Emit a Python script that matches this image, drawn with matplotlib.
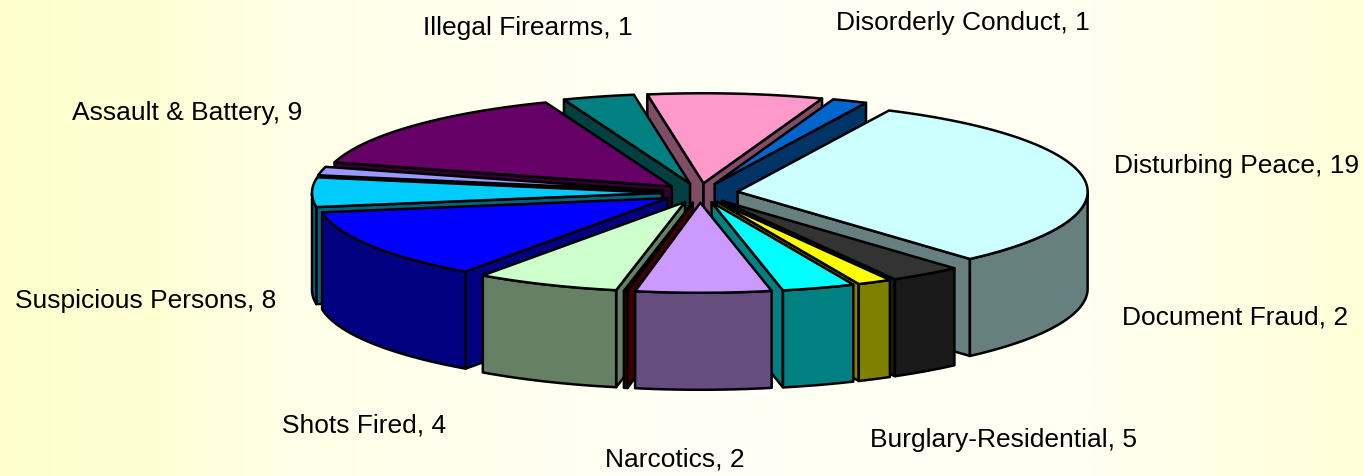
import numpy as np
import matplotlib
matplotlib.use('Agg')
import matplotlib.pyplot as plt
from matplotlib.colors import LinearSegmentedColormap
from matplotlib.patches import Polygon

plt.rcParams['font.family'] = ['Liberation Sans', 'DejaVu Sans']

# slices clockwise, starting with Disorderly Conduct
values = [0.97, 18.8, 2, 0.95, 2.02, 3.75, 0.1, 3.99, 7.61, 3.17, 0.92, 8.9, 1.98, 4.84]
top_colors = ['#0066CC', '#CCFFFF', '#333333', '#FFFF00', '#00FFFF', '#CC99FF', '#800000',
              '#CCFFCC', '#0000FF', '#00CCFF', '#9999FF', '#660066', '#008080', '#FF99CC']
side_colors = ['#003366', '#668080', '#1A1A1A', '#808000', '#008080', '#664D80', '#400000',
               '#668066', '#000080', '#006680', '#4D4D80', '#330033', '#004040', '#804D66']

labels = ['Illegal Firearms, 1', 'Disorderly Conduct, 1', 'Assault & Battery, 9',
          'Disturbing Peace, 19', 'Suspicious Persons, 8', 'Document Fraud, 2',
          'Shots Fired, 4', 'Burglary-Residential, 5', 'Narcotics, 2']
label_x = [423, 836, 72, 1114, 15, 1122, 282, 870, 605]
label_y = [28, 23, 113, 166, 301, 318, 425, 440, 459]

# pie geometry in pixels
cx, cy = 700, 193
rx, ry = 350, 90
depth = 97
explode = 38
start_angle = 19.8
lw = 1.8

fig = plt.figure(figsize=(13.64, 4.76), dpi=100)
ax = fig.add_axes([0, 0, 1, 1])
ax.set_xlim(0, 1364)
ax.set_ylim(476, 0)
ax.axis('off')

# yellow at the edges, almost white in the middle
bg = LinearSegmentedColormap.from_list('bg', [(0, '#FFFFCC'), (0.11, '#FFFFD5'), (0.22, '#FFFFE8'),
                                              (0.5, '#FFFFF6'), (0.8, '#FFFFF2'), (1, '#FFFFD8')])
ax.imshow(np.linspace(0, 1, 512).reshape(1, -1), cmap=bg, extent=[0, 1364, 476, 0], aspect='auto', zorder=0)


def point(a, ox, oy, r=1.0):
    rad = np.radians(a)
    return ox + r * rx * np.sin(rad), oy - r * ry * np.cos(rad)


def arc(a, b, ox, oy):
    t = np.linspace(a, b, max(int(abs(b - a)) * 2, 2))
    return np.column_stack(point(t, ox, oy))


def face(pts, color, z):
    ax.add_patch(Polygon(pts, closed=True, facecolor=color, edgecolor='black',
                         linewidth=lw, joinstyle='round', zorder=z))


edges = start_angle + np.cumsum([0] + values) * 360.0 / sum(values)
mids = (edges[:-1] + edges[1:]) / 2

# back slices first
order = np.argsort(-np.cos(np.radians(mids)))
for n, i in enumerate(order):
    a, b = edges[i], edges[i + 1]
    ox = cx + explode * np.sin(np.radians(mids[i]))
    oy = cy - explode * ry / rx * np.cos(np.radians(mids[i]))
    z = 2 + n
    apex = np.array([ox, oy])
    down = np.array([0, depth])

    # side walls only where they face the viewer
    if np.sin(np.radians(a)) < 0:
        p = np.array(point(a, ox, oy))
        face([apex, p, p + down, apex + down], side_colors[i], z)
    if np.sin(np.radians(b)) > 0:
        p = np.array(point(b, ox, oy))
        face([apex, p, p + down, apex + down], side_colors[i], z)

    # outer rim, front half only
    for k in [0, 360]:
        lo, hi = max(a, 90 + k), min(b, 270 + k)
        if lo < hi:
            rim = arc(lo, hi, ox, oy)
            face(np.vstack([rim, rim[::-1] + down]), side_colors[i], z)

    face(np.vstack([apex, arc(a, b, ox, oy)]), top_colors[i], z)

for text, x, y in zip(labels, label_x, label_y):
    ax.text(x, y, text, fontsize=19, color='black', ha='left', va='center', zorder=50)

fig.savefig('out.png', dpi=100)
